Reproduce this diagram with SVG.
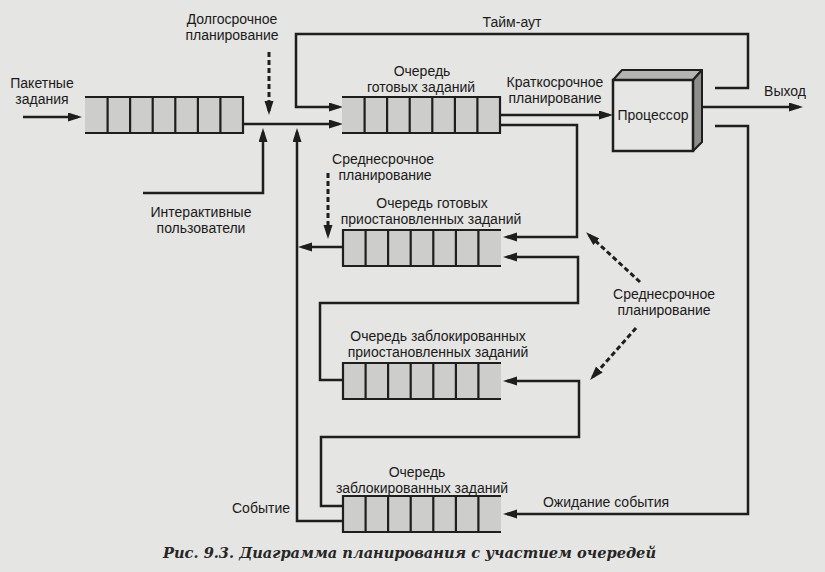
<svg xmlns="http://www.w3.org/2000/svg" xmlns:xlink="http://www.w3.org/1999/xlink" width="825" height="572" viewBox="0 0 825 572">
<style>
  .bg { fill: #e5e5e3; }
  .t { font-family: "Liberation Sans", Arial, sans-serif; font-size: 14px; fill: #1a1a1a; text-anchor: middle; }
  .cap { font-family: "DejaVu Serif", "Liberation Serif", serif; font-style: italic; font-weight: bold; font-size: 15px; fill: #262626; }
  .qfill { fill: #cdcdcb; stroke: none; }
  .qline { fill: none; stroke: #1e1e1e; stroke-width: 2.2; }
  .ln { fill: none; stroke: #1e1e1e; stroke-width: 2.5; stroke-linejoin: miter; }
  .ar { marker-end: url(#ah); }
  .dash { fill: none; stroke: #1e1e1e; stroke-width: 3; stroke-dasharray: 5 3; marker-end: url(#ah); }
  .pfront { fill: #e6e6e4; stroke: #1e1e1e; stroke-width: 2.5; }
  .ptop { fill: #b4b4b2; stroke: #1e1e1e; stroke-width: 2; stroke-linejoin: round; }
  .pside { fill: #8e8e8c; stroke: #1e1e1e; stroke-width: 2; stroke-linejoin: round; }
</style>
<defs>
  <marker id="ah" markerUnits="userSpaceOnUse" markerWidth="16" markerHeight="10" refX="10" refY="4.5" orient="auto">
    <path d="M0,0 L14,4.5 L0,9 z" fill="#1e1e1e"/>
  </marker>
  <g id="queueL">
    <rect class="qfill" x="0" y="0" width="158" height="36"/>
    <path class="qline" d="M158,0 H0 V36 H158 M22.6,0 V36 M45.1,0 V36 M67.7,0 V36 M90.3,0 V36 M112.9,0 V36 M135.4,0 V36"/>
  </g>
</defs>
<rect class="bg" x="0" y="0" width="825" height="572"/>

<g id="connectors">
  <path class="ln ar" d="M23,117 H78"/>
  <path class="ln ar" d="M243,124 H339"/>
  <path class="ln ar" d="M715,88 H748 V34 H296 V107 H339"/>
  <path class="ln ar" d="M143,193 H263 V132"/>
  <path class="ln ar" d="M343,521 H297 V132"/>
  <path class="ln ar" d="M343,247 H302"/>
  <path class="ln ar" d="M500,115 H609"/>
  <path class="ln ar" d="M697,107 H799"/>
  <path class="ln ar" d="M500,125 H577 V237 H507"/>
  <path class="ln ar" d="M342,380 H320 V303 H578 V257 H507"/>
  <path class="ln ar" d="M343,506 H321 V437 H579 V381 H507"/>
  <path class="ln ar" d="M715,126 H748 V514 H507"/>
  <path class="dash" d="M269,52 V111"/>
  <path class="dash" d="M328,173 V235"/>
  <path class="dash" d="M640,282 L589,235"/>
  <path class="dash" d="M636,328 L592.7,377"/>
  <g id="connector-labels">
    <text class="t" x="42" y="88">Пакетные</text>
    <text class="t" x="42" y="104">задания</text>
    <text class="t" x="232" y="24">Долгосрочное</text>
    <text class="t" x="232" y="40">планирование</text>
    <text class="t" x="512" y="27">Тайм-аут</text>
    <text class="t" x="555" y="87">Краткосрочное</text>
    <text class="t" x="555" y="103">планирование</text>
    <text class="t" x="785" y="96">Выход</text>
    <text class="t" x="383" y="164">Среднесрочное</text>
    <text class="t" x="385" y="180">планирование</text>
    <text class="t" x="201" y="217">Интерактивные</text>
    <text class="t" x="201" y="233">пользователи</text>
    <text class="t" x="664" y="299">Среднесрочное</text>
    <text class="t" x="664" y="315">планирование</text>
    <text class="t" x="261" y="513">Событие</text>
    <text class="t" x="606" y="507">Ожидание события</text>
  </g>
</g>

<g id="batch-queue">
  <use xlink:href="#queueL" href="#queueL" transform="translate(243,97) scale(-1,1)"/>
</g>

<g id="ready-queue">
  <use xlink:href="#queueL" href="#queueL" transform="translate(500,97) scale(-1,1)"/>
  <text class="t" x="422" y="76">Очередь</text>
  <text class="t" x="421" y="92">готовых заданий</text>
</g>

<g id="processor">
  <polygon class="ptop" points="613,80 622,70 702,70 693,80"/>
  <polygon class="pside" points="693,80 702,70 702,142 693,151"/>
  <rect class="pfront" x="613" y="80" width="80" height="71"/>
  <text class="t" x="653" y="120">Процессор</text>
</g>

<g id="suspended-ready-queue">
  <use xlink:href="#queueL" href="#queueL" transform="translate(343,230)"/>
  <text class="t" x="432" y="208">Очередь готовых</text>
  <text class="t" x="431" y="224">приостановленных заданий</text>
</g>

<g id="suspended-blocked-queue">
  <use xlink:href="#queueL" href="#queueL" transform="translate(343,363)"/>
  <text class="t" x="438" y="341">Очередь заблокированных</text>
  <text class="t" x="438" y="357">приостановленных заданий</text>
</g>

<g id="blocked-queue">
  <use xlink:href="#queueL" href="#queueL" transform="translate(343,496)"/>
  <text class="t" x="417" y="477">Очередь</text>
  <text class="t" x="422" y="493">заблокированных заданий</text>
</g>

<text class="cap" x="163" y="558" textLength="493" lengthAdjust="spacingAndGlyphs">Рис. 9.3. Диаграмма планирования с участием очередей</text>
</svg>
